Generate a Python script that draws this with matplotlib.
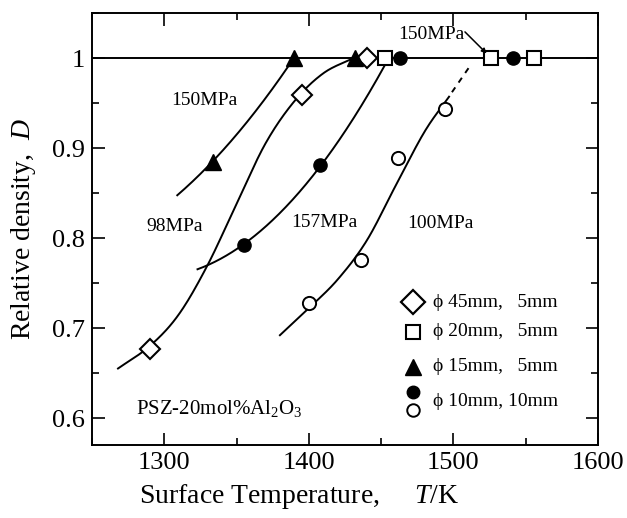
import numpy as np
import matplotlib
matplotlib.use("Agg")
import matplotlib.pyplot as plt
from matplotlib.ticker import MultipleLocator

plt.rcParams['font.family'] = ['Liberation Serif', 'DejaVu Serif']
plt.rcParams['mathtext.fontset'] = 'custom'
plt.rcParams['mathtext.rm'] = 'Liberation Serif'
plt.rcParams['mathtext.it'] = 'Liberation Serif:italic'

# measured points (T in K, relative density D)
diamond_T = [1290, 1395, 1440]          # phi 45mm, 5mm
diamond_D = [0.677, 0.959, 1.0]
square_T = [1453, 1526, 1556]           # phi 20mm, 5mm
square_D = [1.0, 1.0, 1.0]
tri_T = [1334, 1390, 1432]              # phi 15mm, 5mm
tri_D = [0.885, 1.0, 1.0]
fcirc_T = [1355, 1408, 1463, 1541]      # phi 10mm, 10mm (filled)
fcirc_D = [0.792, 0.881, 1.0, 1.0]
ocirc_T = [1400, 1436, 1462, 1494]      # phi 10mm, 10mm (open)
ocirc_D = [0.728, 0.776, 0.889, 0.943]

# guide curves
c150_T = [1309, 1334, 1352, 1368, 1390]
c150_D = [0.848, 0.885, 0.918, 0.953, 1.0]
c98_T = [1268, 1290, 1310, 1330, 1350, 1370, 1390, 1410, 1431]
c98_D = [0.655, 0.680, 0.715, 0.770, 0.838, 0.905, 0.952, 0.983, 1.0]
c157_T = [1323, 1355, 1383, 1408, 1437, 1455]
c157_D = [0.766, 0.792, 0.832, 0.881, 0.950, 0.998]
c100_T = [1380, 1400, 1420, 1440, 1460, 1480, 1497]
c100_D = [0.692, 0.722, 0.754, 0.797, 0.858, 0.918, 0.957]
c100_dash_T = [1499, 1511]
c100_dash_D = [0.962, 0.99]


def fitted(xs, ys, deg):
    # smooth guide line through the read-off points
    k = np.polyfit(xs, ys, deg)
    x = np.linspace(xs[0], xs[-1], 200)
    return x, np.polyval(k, x)


def spline(xs, ys, n=25):
    # catmull-rom through the read-off points
    p = np.column_stack([xs, ys]).astype(float)
    p = np.vstack([2 * p[0] - p[1], p, 2 * p[-1] - p[-2]])
    t = np.linspace(0, 1, n, endpoint=False)[:, None]
    out = []
    for i in range(1, len(p) - 2):
        p0, p1, p2, p3 = p[i - 1], p[i], p[i + 1], p[i + 2]
        out.append(0.5 * (2 * p1 + (p2 - p0) * t + (2 * p0 - 5 * p1 + 4 * p2 - p3) * t ** 2
                          + (3 * p1 - p0 - 3 * p2 + p3) * t ** 3))
    out.append(p[-2][None, :])
    out = np.vstack(out)
    return out[:, 0], out[:, 1]


fig = plt.figure(figsize=(6.27, 5.18), dpi=100)
ax = fig.add_axes([0.1467, 0.1409, 0.807, 0.834])

lw = 1.4
ax.axhline(1.0, color='black', lw=lw, zorder=1)
for xs, ys in [(c150_T, c150_D), (c157_T, c157_D)]:
    sx, sy = fitted(xs, ys, 2)
    ax.plot(sx, sy, color='black', lw=lw, zorder=1)
for xs, ys in [(c98_T, c98_D), (c100_T, c100_D)]:
    sx, sy = spline(xs, ys)
    ax.plot(sx, sy, color='black', lw=lw, zorder=1)
ax.plot(c100_dash_T, c100_dash_D, color='black', lw=lw, ls=(0, (3, 3)), zorder=1)

ax.plot(diamond_T, diamond_D, 'D', ms=10, mfc='white', mec='black', mew=1.5, ls='none', zorder=3)
ax.plot(square_T, square_D, 's', ms=9.5, mfc='white', mec='black', mew=1.5, ls='none', zorder=3)
ax.plot(tri_T, tri_D, '^', ms=11, color='black', ls='none', zorder=3)
ax.plot(fcirc_T, fcirc_D, 'o', ms=9.5, color='black', ls='none', zorder=3)
ax.plot(ocirc_T, ocirc_D, 'o', ms=9.5, mfc='white', mec='black', mew=1.4, ls='none', zorder=3)

# pressure labels
ax.text(1328, 0.953, '150MPa', fontsize=14, ha='center', va='center')
ax.text(1307, 0.813, '98MPa', fontsize=14, ha='center', va='center')
ax.text(1411, 0.817, '157MPa', fontsize=14, ha='center', va='center')
ax.text(1491, 0.816, '100MPa', fontsize=14, ha='center', va='center')
ax.text(1485, 1.026, '150MPa', fontsize=14, ha='center', va='center')
ax.annotate('', xy=(1523, 1.005), xytext=(1508, 1.029),
            arrowprops=dict(arrowstyle='-|>', color='black', lw=1.1, shrinkA=0, shrinkB=0,
                            mutation_scale=7))
ax.text(1338, 0.611, 'PSZ-20mol%Al$_2$O$_3$', fontsize=15, ha='center', va='center')

# legend drawn by hand
lx, tx = 0.634, 0.674
ax.plot(lx, 0.331, 'D', ms=12, mfc='white', mec='black', mew=1.6, transform=ax.transAxes, clip_on=False)
ax.plot(lx, 0.262, 's', ms=10, mfc='white', mec='black', mew=1.5, transform=ax.transAxes, clip_on=False)
ax.plot(lx, 0.181, '^', ms=11, color='black', transform=ax.transAxes, clip_on=False)
ax.plot(lx, 0.123, 'o', ms=9, color='black', transform=ax.transAxes, clip_on=False)
ax.plot(lx, 0.081, 'o', ms=9, mfc='white', mec='black', mew=1.4, transform=ax.transAxes, clip_on=False)
leg_labels = ['ϕ 45mm,   5mm', 'ϕ 20mm,   5mm', 'ϕ 15mm,   5mm', 'ϕ 10mm, 10mm']
for lab, yy in zip(leg_labels, [0.331, 0.262, 0.181, 0.100]):
    ax.text(tx, yy, lab, fontsize=14, ha='left', va='center', transform=ax.transAxes)

ax.set_xlim(1250, 1600)
ax.set_ylim(0.57, 1.05)
ax.xaxis.set_major_locator(MultipleLocator(100))
ax.xaxis.set_minor_locator(MultipleLocator(50))
ax.yaxis.set_minor_locator(MultipleLocator(0.05))
ax.set_yticks([0.6, 0.7, 0.8, 0.9, 1.0])
ax.set_yticklabels(['0.6', '0.7', '0.8', '0.9', '1'])
ax.tick_params(which='both', direction='in', top=True, right=True, labelsize=19, width=1.2)
ax.tick_params(which='major', length=9, pad=5)
ax.tick_params(which='minor', length=5)
for s in ax.spines.values():
    s.set_linewidth(1.4)

ax.set_xlabel('Surface Temperature,     $T$/K', fontsize=20, labelpad=2)
ax.xaxis.set_label_coords(0.41, -0.085)
ax.set_ylabel('Relative density,  $D$', fontsize=20, labelpad=10)

fig.savefig('out.png', dpi=100)
